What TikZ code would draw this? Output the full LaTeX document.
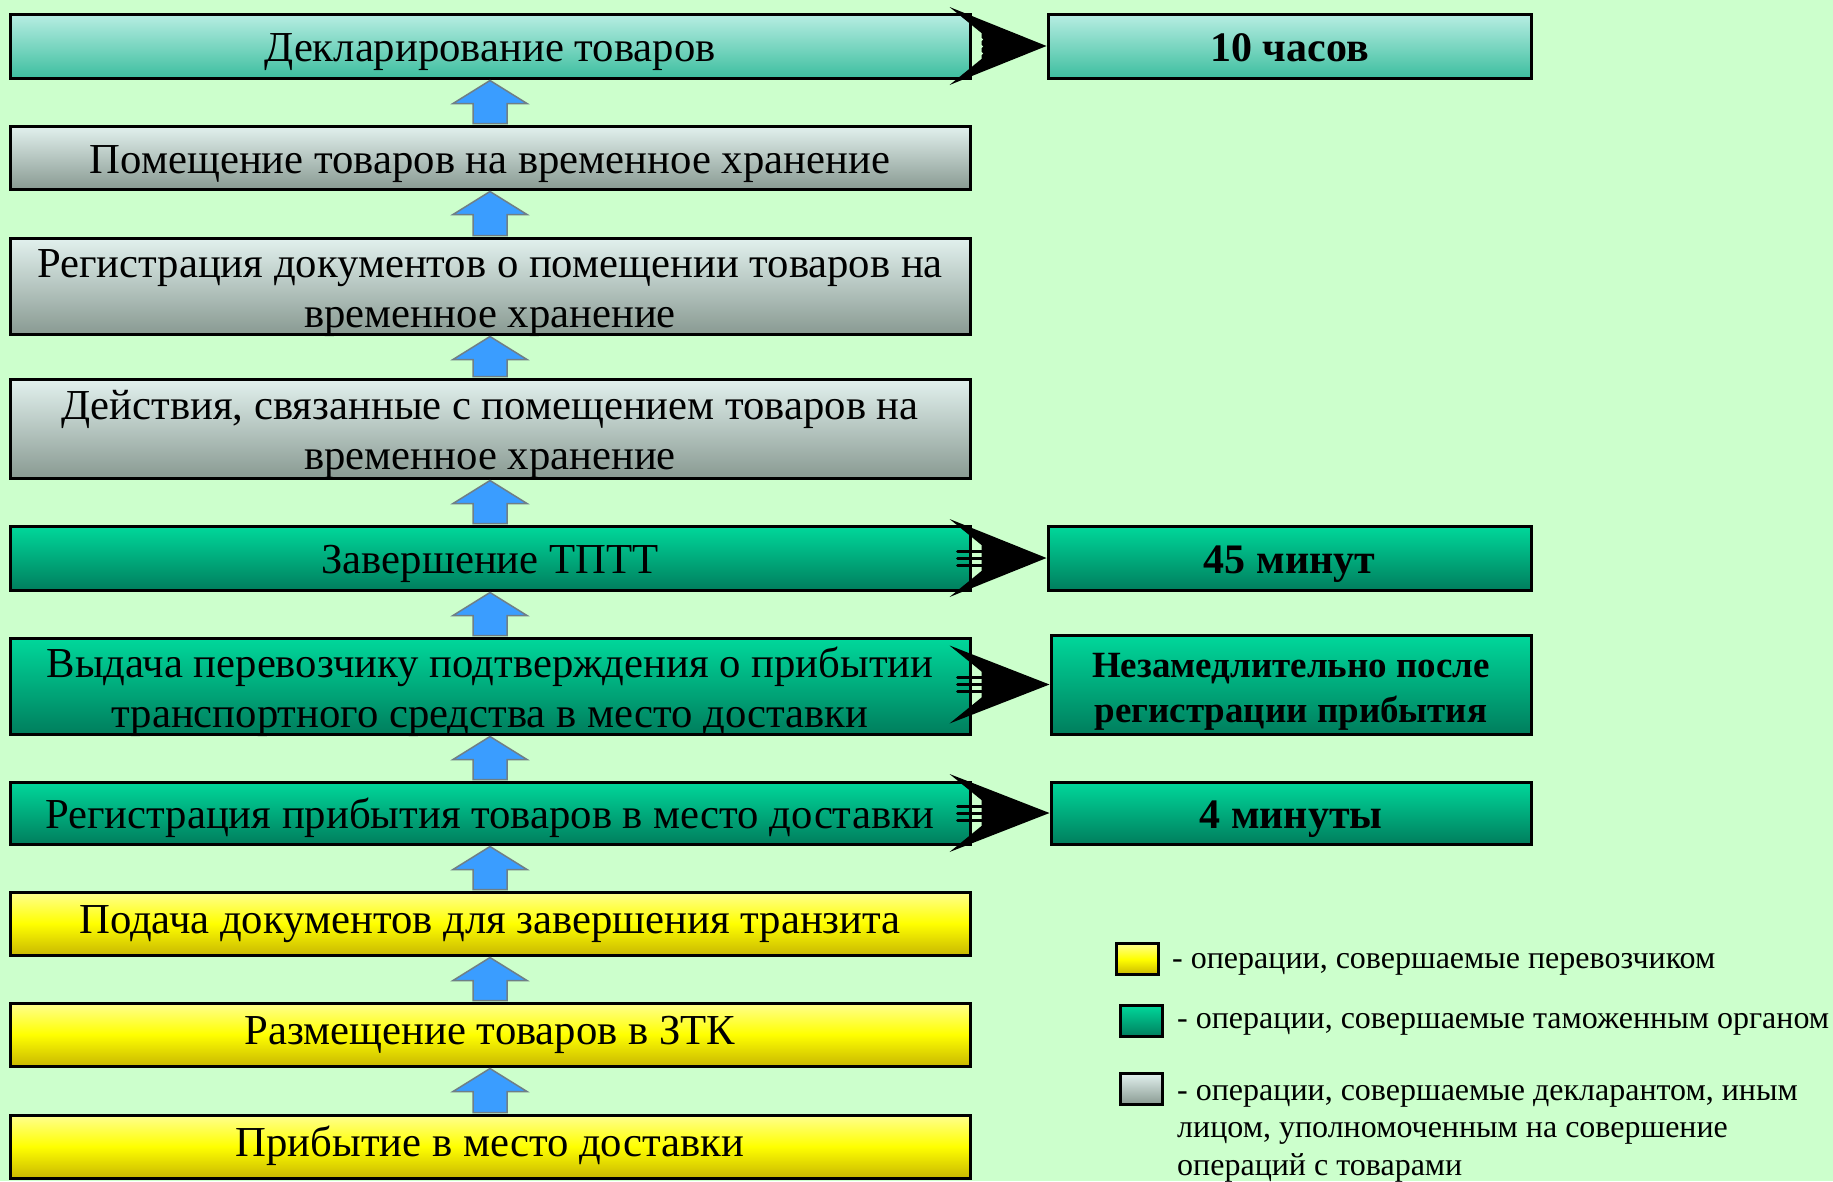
\documentclass[tikz,border=0pt]{standalone}
\usepackage{fontspec}
\setmainfont{Liberation Serif}
\usetikzlibrary{calc}
\definecolor{bgc}{HTML}{CCFFCC}
\definecolor{tealT}{HTML}{B8EEE3}
\definecolor{tealB}{HTML}{3DBE9F}
\definecolor{greyT}{HTML}{E2F1EE}
\definecolor{greyB}{HTML}{899A92}
\definecolor{grnT}{HTML}{00D89B}
\definecolor{grnB}{HTML}{007E5D}
\definecolor{yelT}{HTML}{FFFF90}
\definecolor{yelM}{HTML}{FFFF00}
\definecolor{yelB}{HTML}{C9B800}
\definecolor{arrB}{HTML}{3A9DFF}
\definecolor{arrE}{HTML}{6F7F86}
\begin{document}
\begin{tikzpicture}[x=1pt,y=-1pt,
  strutted/.style 2 args={execute at begin node={\rule{0pt}{#1}}, execute at end node={\rule[-#2]{0pt}{0pt}}},
  oneline/.style={strutted={41pt}{10pt}},
  twoline/.style={text height=30pt, text depth=48pt},
  yelline/.style={strutted={41pt}{22pt}},
  box/.style={draw=black, line width=3pt, rectangle, inner sep=0pt,
    font=\fontsize{42.7}{50}\selectfont, minimum width=960pt},
  rbox/.style={draw=black, line width=3pt, rectangle, inner sep=0pt,
    font=\fontsize{42}{50}\selectfont\bfseries},
  tealbox/.style={top color=tealT, bottom color=tealB},
  greybox/.style={top color=greyT, bottom color=greyB},
  grnbox/.style={top color=grnT, bottom color=grnB},
  yelbox/.style={top color=yelT, bottom color=yelB, middle color=yelM},
  uparrow/.style={fill=arrB, draw=arrE, line width=1.5pt, line join=miter},
  stripe/.style={line width=3pt, line cap=round},
  legsq/.style={draw=black, line width=3pt, rectangle, inner sep=0pt, minimum width=42pt, minimum height=31pt},
  legtxt/.style={anchor=west, align=left, inner sep=0pt, font=\fontsize{32}{37.5}\selectfont,
    strutted={25pt}{10pt}}
]
\useasboundingbox (0,0) rectangle (1833,1181);
\fill[bgc] (0,0) rectangle (1833,1181);

% left column
\node[box, oneline, tealbox, minimum height=64pt] (b1) at (490,46) {Декларирование товаров};
\node[box, oneline, greybox, minimum height=63pt] (b2) at (490,157.5) {Помещение товаров на временное хранение};
\node[box, twoline, greybox, minimum height=96pt] (b3) at (490,286) {\begin{tabular}[t]{@{}c@{}}Регистрация документов о помещении товаров на\\временное хранение\end{tabular}};
\node[box, twoline, greybox, minimum height=99pt] (b4) at (490,428.5) {\begin{tabular}[t]{@{}c@{}}Действия, связанные с помещением товаров на\\временное хранение\end{tabular}};
\node[box, oneline, grnbox, minimum height=64pt] (b5) at (490,558) {Завершение ТПТТ};
\node[box, twoline, grnbox, minimum height=96pt] (b6) at (490,686) {\begin{tabular}[t]{@{}c@{}}Выдача перевозчику подтверждения о прибытии\\транспортного средства в место доставки\end{tabular}};
\node[box, oneline, grnbox, minimum height=62pt] (b7) at (490,813) {Регистрация прибытия товаров в место доставки};
\node[box, yelline, yelbox, minimum height=63pt] (b8) at (490,923.5) {Подача документов для завершения транзита};
\node[box, yelline, yelbox, minimum height=63pt] (b9) at (490,1034.5) {Размещение товаров в ЗТК};
\node[box, yelline, yelbox, minimum height=63pt] (b10) at (490,1146.5) {Прибытие в место доставки};

% right column
\node[rbox, oneline, tealbox, minimum width=483pt, minimum height=64pt] (r1) at (1289.5,46) {10 часов};
\node[rbox, oneline, grnbox, minimum width=483pt, minimum height=64pt] (r2) at (1289.5,558) {45 минут};
\node[rbox, text height=30pt, text depth=45pt, grnbox, minimum width=480pt, minimum height=99pt, font=\fontsize{37}{45}\selectfont\bfseries] (r3) at (1291,684.5) {\begin{tabular}[t]{@{}c@{}}Незамедлительно после\\регистрации прибытия\end{tabular}};
\node[rbox, oneline, grnbox, minimum width=480pt, minimum height=62pt] (r4) at (1291,813) {4 минуты};

% blue up arrows
\foreach \lo/\hi in {b2/b1, b3/b2, b4/b3, b5/b4, b6/b5, b7/b6, b8/b7, b9/b8, b10/b9} {
  \draw[uparrow] ($(\lo.north)+(-17,-1)$) -- ($(\hi.south)+(-17,24)$) -- ($(\hi.south)+(-37,24)$)
    -- ($(\hi.south)+(0,1)$) -- ($(\hi.south)+(37,24)$) -- ($(\hi.south)+(17,24)$)
    -- ($(\lo.north)+(17,-1)$) -- cycle;
}

% black right arrows
\foreach \l/\r/\sc/\sx in {b1/r1/bgc/2, b5/r2/black/-14, b6/r3/black/-14, b7/r4/black/-14} {
  \fill[black] let \p1=(\l.east), \p2=(\r.west) in
    (\x1-22,\y2+39) -- (\p2) -- (\x1-22,\y2-39) -- (\x1+10,\y2-13) -- (\x1+10,\y2+13) -- cycle;
  \draw[stripe, draw=\sc] let \p1=(\l.east), \p2=(\r.west) in
    (\x1+\sx,\y2+7) -- (\x1+10,\y2+7)
    (\x1+\sx,\y2) -- (\x1+10,\y2)
    (\x1+\sx,\y2-7) -- (\x1+10,\y2-7);
}

% legend
\node[legsq, yelbox] (l1) at (1137,959) {};
\node[legsq, grnbox] (l2) at (1141,1021) {};
\node[legsq, greybox] (l3) at (1141,1089) {};
\node[legtxt] (t1) at (1172,960.5) {- операции, совершаемые перевозчиком};
\node[legtxt] (t2) at (1177,1020.5) {- операции, совершаемые таможенным органом};
\node[legtxt] (t3) at (1177,1135) {- операции, совершаемые декларантом, иным\\лицом, уполномоченным на совершение\\операций с товарами};
\end{tikzpicture}
\end{document}
